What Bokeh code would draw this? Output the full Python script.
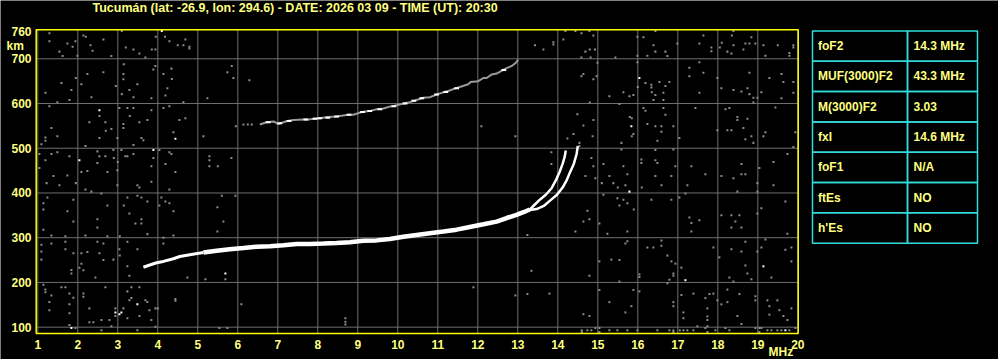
from bokeh.plotting import figure
from bokeh.models import Range1d
from bokeh.embed import file_html
from bokeh.resources import INLINE
from bokeh.core.properties import value

# ---------------- data ----------------
title_text = "Tucumán (lat: -26.9, lon: 294.6) - DATE: 2026 03 09 - TIME (UT): 20:30"
x_ticks = list(range(1, 21))
y_ticks = [100, 200, 300, 400, 500, 600, 700, 760]
grid_h = [100, 200, 300, 400, 500, 600, 700]

# F2 trace (ordinary + extraordinary): frequency in MHz, virtual height in km
f2_start_f = [3.64, 3.80, 3.97, 4.14, 4.39, 4.55, 4.80, 5.14]
f2_start_h = [234, 239, 244, 247, 253, 258, 262, 267]
f2_f = [5.14, 5.47, 5.80, 6.14, 6.47, 6.80, 7.14, 7.47, 7.80, 8.14, 8.47, 8.80, 9.14,
        9.47, 9.80, 10.14, 10.47, 10.80, 11.14, 11.47, 11.80, 12.14, 12.47, 12.72,
        12.97, 13.14, 13.30]
f2_h = [267, 271, 274, 277, 280, 281, 283, 286, 286, 287, 288, 290, 293,
        294, 297, 302, 306, 310, 314, 318, 324, 330, 336, 344,
        351, 357, 363]
o_f = [13.30, 13.40, 13.55, 13.70, 13.84, 13.95, 14.05, 14.12, 14.17, 14.20]
o_h = [363, 372, 385, 396, 410, 428, 448, 465, 480, 495]
x_f = [13.30, 13.47, 13.65, 13.82, 13.98, 14.12, 14.22, 14.30, 14.40, 14.47, 14.50]
x_h = [362, 364, 371, 384, 396, 412, 428, 445, 465, 487, 505]

# second hop trace
hop_f = [6.55, 6.72, 6.90, 7.01, 7.14, 7.24, 7.39, 7.64, 7.76, 7.89, 8.05, 8.24, 8.47,
         8.76, 8.89, 9.10, 9.29, 9.47, 9.64, 9.80, 9.97, 10.14, 10.30, 10.47, 10.64,
         10.80, 10.97, 11.14, 11.26, 11.47, 11.55, 11.76, 11.82, 12.01, 12.14, 12.22,
         12.35, 12.47, 12.64, 12.72, 12.85, 12.95, 13.01]
hop_h = [553, 558, 560, 554, 558, 561, 563, 564, 564, 566, 567, 570, 571,
         575, 575, 581, 583, 587, 589, 593, 596, 600, 603, 608, 613,
         614, 620, 625, 628, 635, 637, 643, 648, 650, 657, 657,
         665, 667, 675, 679, 684, 691, 698]
hop_white = [(6.76, 558), (7.05, 556), (7.28, 561), (7.70, 564), (7.93, 566), (8.05, 567),
             (8.25, 568), (8.47, 571), (8.78, 575), (9.12, 581), (9.30, 583), (9.55, 587),
             (9.90, 594), (10.18, 600), (10.40, 606), (10.60, 612), (10.97, 620),
             (11.20, 626), (11.47, 634), (12.65, 675)]

# scattered echoes (gray)
noise_ul = [(1.29,757),(2.14,752),(2.20,749),(2.64,743),(3.10,762),(3.95,749),(4.18,749),(4.29,739),(4.69,743),(4.50,730),(4.64,730),(4.79,727),(4.79,723),(1.29,739),(1.74,734),(1.87,727),(1.94,739),(1.54,716),(1.62,706),(1.99,707),(2.32,730),(2.37,718),(2.84,706),(3.20,725),(3.39,721),(3.54,712),(3.69,703),(3.85,721),(3.94,721),(3.15,688),(3.94,684),(3.89,676),(4.34,678),(4.14,666),(4.35,655),(2.24,666),(2.64,670),(3.14,666),(3.14,654),(1.95,657),(2.09,643),(1.59,646),(1.84,630),(2.95,639),(3.10,621),(3.29,630),(3.49,643),(3.39,614),(3.84,612),(4.19,618),(4.24,634),(1.19,624),(2.34,614),(1.79,608),(1.49,603),(5.85,684),(5.74,670),(5.89,657),(6.29,652),(5.24,612),(4.64,603),(1.29,594),(3.04,590),(3.24,590),(3.39,590),(3.84,585),(4.14,590),(4.29,594),(2.54,572),(3.30,572),(3.54,558),(3.74,563),(2.29,558),(2.69,558),(2.84,543),(2.70,539),(3.14,554),(3.14,545),(4.69,567),(4.54,563),(4.39,536),(5.14,527),(5.95,549),(6.14,553),(6.25,553),(6.35,553),(1.34,545),(1.49,527),(1.19,524),(1.19,517),(1.09,509),(2.54,523),(2.99,523),(3.59,523),(3.64,518),(3.39,507),(2.19,505),(4.04,496),(2.89,496),(3.09,496),(2.49,493),(2.54,482),(2.69,482),(2.90,478),(3.19,482),(3.24,482),(3.39,487),(1.04,487),(1.34,487),(1.49,491),(1.79,482),(1.19,473),(2.49,467),(3.00,469),(3.89,478),(3.84,460),(4.19,465),(4.29,491),(4.34,487),(5.29,482),(5.29,473),(5.29,460),(5.50,460),(5.84,478),(1.39,438),(1.74,439),(2.09,447),(2.24,449),(2.74,447),(2.99,451),(4.44,447),(1.04,456)]
noise_ur = [(13.43,730),(13.64,721),(13.89,737),(13.89,732),(14.14,743),(14.19,762),(14.44,762),(14.59,757),(14.79,762),(14.89,752),(14.69,716),(14.80,721),(14.93,721),(14.59,703),(14.82,703),(14.99,691),(14.64,666),(14.59,661),(14.89,654),(14.97,661),(15.44,703),(15.99,749),(16.14,748),(16.44,762),(16.39,730),(16.44,716),(16.69,716),(16.74,706),(16.24,707),(15.99,707),(15.99,692),(16.99,734),(17.64,752),(17.54,734),(17.84,725),(17.84,717),(18.05,725),(18.10,736),(18.35,752),(18.39,762),(18.24,716),(18.34,712),(18.39,730),(18.64,721),(18.69,734),(18.79,734),(18.94,734),(18.84,748),(19.14,730),(19.19,707),(19.50,730),(19.79,707),(19.79,713),(19.89,725),(16.19,646),(16.34,642),(16.34,636),(16.54,648),(16.69,639),(16.79,648),(16.64,624),(16.35,625),(16.44,619),(16.64,608),(16.39,608),(15.89,619),(15.79,616),(15.64,625),(16.00,637),(15.29,616),(14.80,602),(15.54,599),(17.29,680),(17.54,692),(17.64,669),(17.29,661),(17.54,624),(17.99,657),(18.09,634),(18.39,630),(18.59,627),(18.74,634),(18.79,669),(18.79,621),(18.89,613),(18.99,613),(19.09,625),(19.29,657),(19.59,666),(19.64,648),(19.89,648),(19.89,624),(19.59,612),(19.44,591),(18.89,602),(19.94,536),(14.49,576),(14.64,551),(14.89,563),(14.87,527),(14.54,512),(14.54,505),(14.39,532),(14.24,522),(13.84,491),(13.84,465),(12.09,549),(12.94,527),(15.80,570),(15.85,567),(15.85,527),(15.89,532),(15.59,512),(15.59,497),(16.14,590),(16.19,584),(16.24,554),(16.44,549),(16.59,549),(16.64,590),(16.69,575),(16.89,549),(16.59,537),(16.44,496),(16.49,517),(17.04,523),(16.89,497),(17.44,590),(18.19,587),(18.29,590),(18.49,570),(18.49,563),(18.74,566),(18.24,540),(18.34,540),(18.64,545),(17.99,540),(18.69,520),(18.84,527),(18.89,512),(19.14,527),(19.19,536),(19.89,503),(19.74,487),(19.39,469),(19.04,456),(19.89,730),(16.09,475),(16.09,467),(16.44,473),(16.49,467),(16.94,460),(17.34,460),(17.69,442),(18.09,438),(18.59,465),(18.69,442),(18.59,442),(18.39,433),(16.84,438),(16.44,438),(15.74,442),(15.64,460),(15.29,438),(15.14,465),(14.89,460),(14.84,478),(14.69,438),(14.94,433)]
noise_ll = [(1.22,422),(1.54,417),(1.95,422),(2.19,408),(2.34,403),(2.59,399),(2.99,417),(3.49,417),(3.54,412),(3.84,425),(4.29,408),(1.24,390),(1.14,377),(1.14,363),(1.89,385),(1.74,359),(1.89,336),(2.74,372),(2.49,341),(2.49,323),(3.15,372),(3.24,390),(3.29,354),(3.49,394),(3.59,390),(3.44,332),(3.59,332),(3.59,341),(3.74,381),(3.74,308),(4.04,372),(4.09,390),(4.19,381),(4.29,377),(4.39,359),(4.14,300),(4.14,287),(4.39,305),(1.14,318),(1.34,305),(1.69,303),(2.19,305),(2.74,303),(3.05,303),(1.09,284),(1.09,269),(1.09,251),(1.34,287),(1.69,291),(1.69,274),(1.89,265),(2.09,265),(2.24,268),(2.54,265),(2.49,291),(2.64,287),(2.64,250),(2.89,251),(3.04,274),(3.05,260),(3.24,291),(3.49,274),(3.24,236),(3.29,215),(1.84,228),(1.84,220),(2.04,233),(2.14,227),(2.09,242),(2.44,211),(1.14,195),(1.19,184),(1.19,178),(1.59,189),(1.69,189),(1.79,175),(1.89,166),(2.14,175),(2.14,168),(1.34,171),(1.29,156),(1.29,138),(1.79,151),(1.79,131),(2.29,142),(2.69,189),(3.24,180),(3.34,189),(3.54,189),(3.29,160),(3.34,165),(3.69,160),(3.74,156),(2.94,142),(3.14,142),(2.94,125),(3.24,120),(3.54,125),(3.79,138),(3.94,142),(4.00,142),(3.84,116),(3.94,101),(2.59,116),(2.79,116),(2.29,111),(2.39,111),(1.79,105),(1.94,98),(2.59,93),(2.84,102),(3.49,93),(4.44,163),(4.44,159),(4.74,211),(5.19,207),(5.69,207),(6.09,151),(5.60,394),(5.94,394),(5.49,368),(5.64,336),(5.49,314),(5.54,98),(5.74,98),(8.69,120),(8.69,112),(8.69,106)]
noise_lr = [(13.24,306),(13.34,226),(11.89,189),(12.94,171),(13.24,174),(13.79,175),(14.44,314),(14.64,336),(14.79,341),(14.74,360),(15.04,332),(15.24,309),(15.14,396),(15.10,422),(15.39,422),(15.50,412),(15.69,417),(15.49,388),(15.54,372),(15.64,385),(15.74,377),(15.90,363),(16.10,412),(16.59,417),(16.34,385),(16.84,385),(17.04,390),(17.24,417),(17.19,399),(17.29,345),(17.34,333),(17.54,339),(17.34,314),(18.09,350),(18.34,350),(18.54,350),(18.44,336),(18.34,323),(18.59,323),(18.49,403),(18.99,422),(18.99,403),(19.09,366),(18.99,354),(19.39,417),(19.69,381),(19.74,309),(15.74,314),(15.74,292),(15.69,287),(16.59,294),(16.24,278),(16.39,278),(16.59,282),(16.74,260),(16.84,247),(16.94,242),(17.09,233),(16.89,220),(16.89,215),(16.79,206),(16.74,198),(15.04,247),(15.34,251),(15.54,250),(14.79,215),(15.54,202),(16.04,218),(16.04,212),(17.89,278),(18.04,256),(18.34,274),(18.59,269),(18.69,291),(18.69,238),(18.74,220),(19.09,278),(18.99,269),(19.19,296),(19.34,211),(19.69,273),(19.84,278),(19.84,247),(18.29,211),(18.39,202),(18.84,207),(15.04,183),(15.29,156),(15.69,133),(15.84,147),(15.89,183),(16.04,180),(14.64,129),(14.79,125),(16.89,156),(16.89,147),(17.09,172),(17.14,133),(17.14,120),(17.39,175),(17.69,165),(17.74,142),(17.74,124),(17.74,116),(17.79,174),(17.89,175),(17.99,160),(18.09,151),(18.24,184),(18.24,156),(18.54,174),(18.49,125),(18.59,107),(18.94,169),(18.94,160),(19.24,160),(19.29,147),(19.29,128),(19.49,160),(19.54,138),(19.64,125),(19.74,116),(19.84,142),(19.09,98)]
noise_bottom = [(14.60,93),(14.74,93),(14.84,93),(14.94,98),(15.04,98),(15.29,93),(15.49,93),(15.74,93),(15.99,93),(16.49,93),(16.79,93),(16.89,93),(17.05,93),(17.14,93),(17.24,93),(17.39,93),(17.49,102),(17.69,98),(17.74,102),(17.94,93),(18.19,98),(18.29,93),(18.94,98),(19.04,98),(19.24,93),(19.34,93),(19.49,93),(19.59,93),(19.79,93),(19.94,98),(14.60,89),(15.04,89),(16.89,89),(17.74,89),(19.04,89)]
white_specks = [(4.10,762),(2.54,585),(4.44,521),(3.89,496),(2.04,473),(16.04,657),(15.84,549),(1.84,98),(3.49,151),(2.94,133),(3.04,129),(3.09,133),(5.69,220),(15.79,403),(17.19,205),(19.14,236),(19.69,93)]

# parameter table
param_names = ["foF2", "MUF(3000)F2", "M(3000)F2", "fxI", "foF1", "ftEs", "h'Es"]
param_values = ["14.3 MHz", "43.3 MHz", "3.03", "14.6 MHz", "N/A", "NO", "NO"]

# ---------------- styling / layout constants ----------------
TXT = "#ffff80"
BORDER = "#ffff00"
GRID = "#6e6e6e"
NOISE = "#8c8c8c"
CYAN = "#33dddd"
FONT = "Liberation Sans"
W, H = 998, 359
# plot box limits (MHz, km)
F0, F1, H0, H1 = 0.96, 20.01, 86, 765

p = figure(width=W, height=H, x_range=Range1d(0.0675, 25.0175), y_range=Range1d(27.7, 830.3),
           output_backend="svg", toolbar_location=None, min_border=0,
           x_axis_location=None, y_axis_location=None,
           background_fill_color="black", border_fill_color="black")
p.outline_line_color = None
p.grid.visible = False
# pixel-based helper ranges for text placement and the table
p.extra_x_ranges = {"px": Range1d(0, W)}
p.extra_y_ranges = {"py": Range1d(H, 0), "rows": Range1d(10.84, -1.007)}

# grid
p.segment(x0=x_ticks, y0=[H0] * len(x_ticks), x1=x_ticks, y1=[H1] * len(x_ticks),
          line_color=GRID, line_width=1)
p.segment(x0=[F0] * len(grid_h), y0=grid_h, x1=[F1] * len(grid_h), y1=grid_h,
          line_color=GRID, line_width=1)

def split(pts):
    return [a for a, b in pts], [b for a, b in pts]

all_noise = noise_ul + noise_ur + noise_ll + noise_lr + noise_bottom
nf, nh = split(all_noise)
p.rect(x=nf, y=nh, width=0.05, height=4.5, fill_color=NOISE, line_color=None)
wf, wh = split(white_specks)
p.rect(x=wf, y=wh, width=0.05, height=4.5, fill_color="white", line_color=None)

p.line(hop_f, hop_h, line_color="#9a9a9a", line_width=2)
hf, hh = split(hop_white)
p.rect(x=hf, y=hh, width=0.12, height=4.5, fill_color="white", line_color=None)

p.line(f2_start_f, f2_start_h, line_color="white", line_width=3)
p.line(f2_f, f2_h, line_color="white", line_width=4.5)
p.line(o_f, o_h, line_color="white", line_width=2.5)
p.line(x_f, x_h, line_color="white", line_width=2.5)

# plot border
p.quad(left=[F0], right=[F1], bottom=[H0], top=[H1], fill_color=None,
       line_color=BORDER, line_width=1.5)

txt_kw = dict(text_font=value(FONT), text_font_style="bold", text_color=TXT)
# tick labels
p.text(x=x_ticks, y=[344] * len(x_ticks), text=[str(v) for v in x_ticks], y_range_name="py",
       text_align="center", text_baseline="middle", text_font_size="12px", **txt_kw)
p.text(x=[31] * len(y_ticks), y=y_ticks, text=[str(v) for v in y_ticks], x_range_name="px",
       text_align="right", text_baseline="middle", text_font_size="12px", **txt_kw)
p.text(x=[6], y=[45.5], text=["km"], x_range_name="px", y_range_name="py",
       text_align="left", text_baseline="middle", text_font_size="12px", **txt_kw)
p.text(x=[768], y=[351.5], text=["MHz"], x_range_name="px", y_range_name="py",
       text_align="left", text_baseline="middle", text_font_size="12px", **txt_kw)
p.text(x=[92], y=[7], text=[title_text], x_range_name="px", y_range_name="py",
       text_align="left", text_baseline="middle", text_font_size="12.5px", **txt_kw)

# parameter table
n = len(param_names)
rows_top = list(range(n))
rows_bot = [i + 1 for i in rows_top]
p.quad(left=[812] * n + [907] * n, right=[907] * n + [977] * n,
       top=rows_top + rows_top, bottom=rows_bot + rows_bot,
       x_range_name="px", y_range_name="rows",
       fill_color=None, line_color=CYAN, line_width=1.5)
mids = [i + 0.5 for i in rows_top]
p.text(x=[817.5] * n, y=mids, text=param_names, x_range_name="px", y_range_name="rows",
       text_align="left", text_baseline="middle", text_font_size="12px", **txt_kw)
p.text(x=[913] * n, y=mids, text=param_values, x_range_name="px", y_range_name="rows",
       text_align="left", text_baseline="middle", text_font_size="12px", **txt_kw)

open("out.html", "w").write(file_html(p, INLINE))
